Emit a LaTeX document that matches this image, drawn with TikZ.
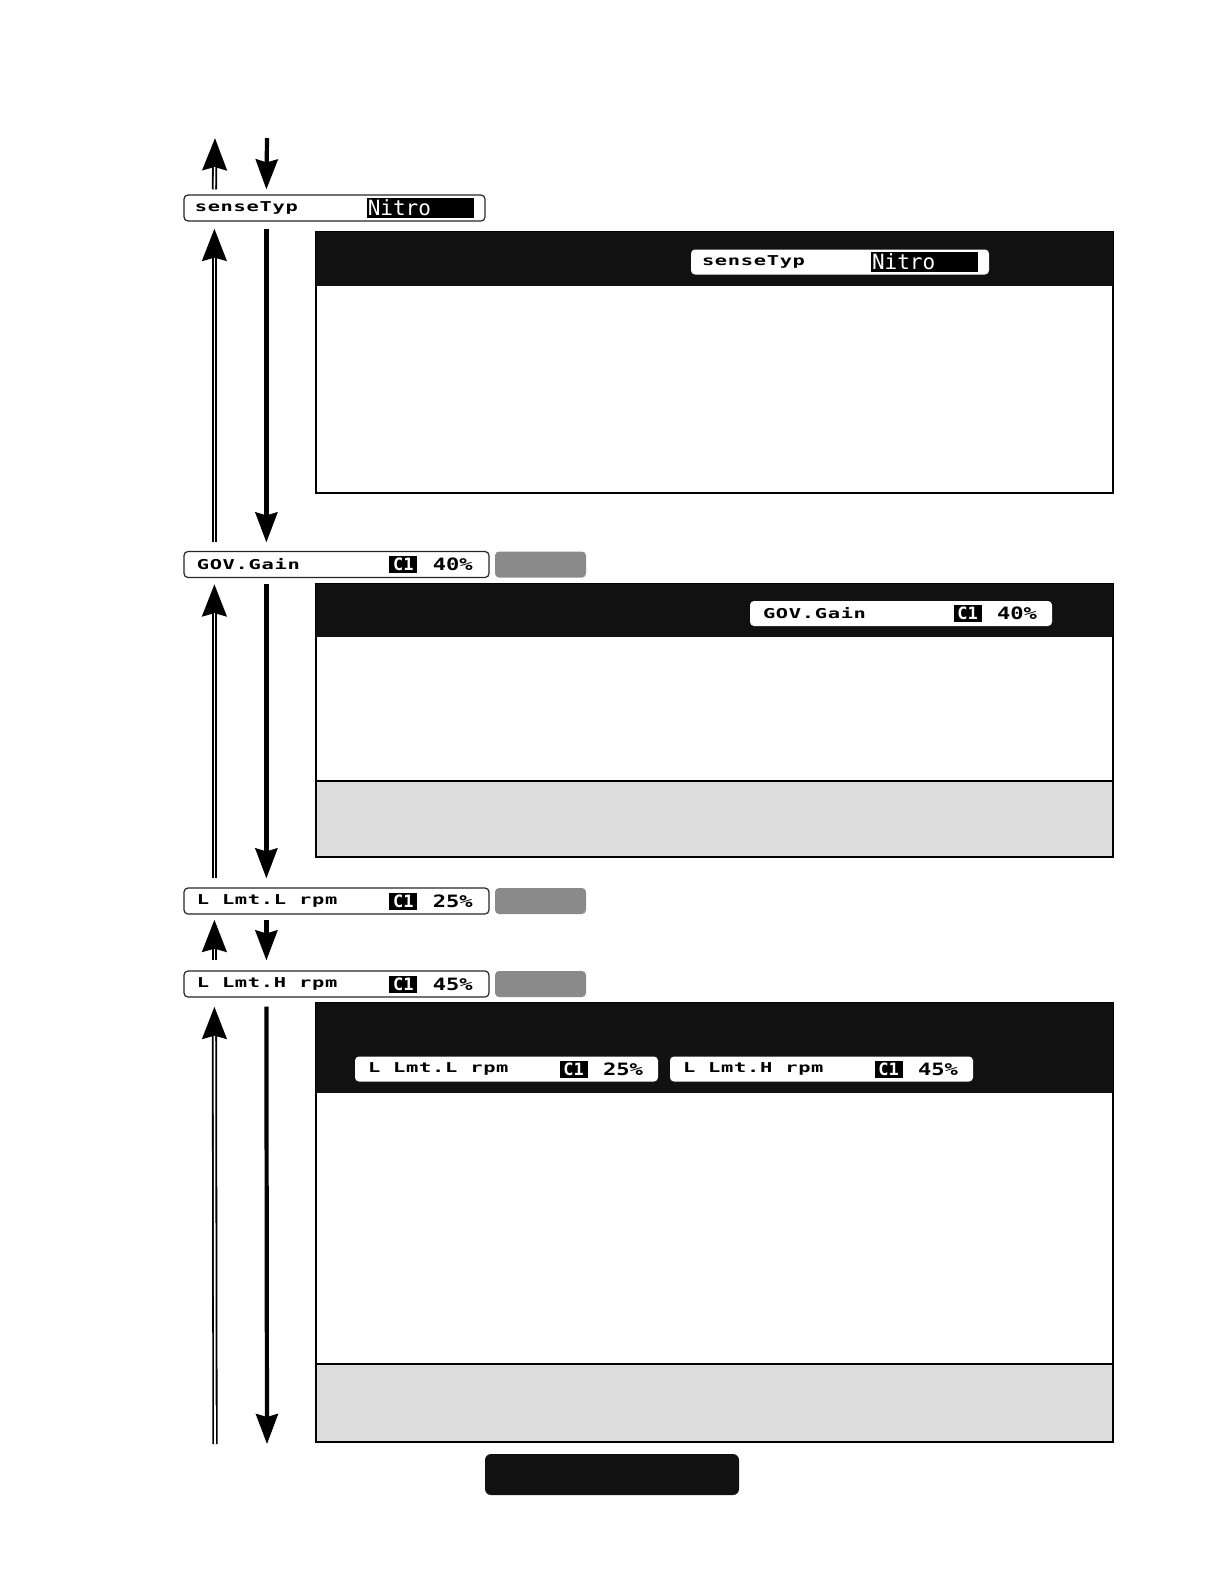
\documentclass[tikz,border=0pt]{standalone}
\usepackage{fontspec}
\usepackage{xcolor}
\newfontfamily\lcdfont[FakeStretch=1.5,LetterSpace=5]{DejaVu Sans Mono Bold}
\newfontfamily\lcdval[FakeStretch=1.3]{DejaVu Sans Mono Bold}
\newfontfamily\valfont{DejaVu Sans Mono}
\usetikzlibrary{arrows.meta, positioning}
\definecolor{hdrblack}{HTML}{111111}
\definecolor{footgray}{HTML}{DCDCDC}
\definecolor{tabgray}{HTML}{8A8A8A}

\begin{document}
\begin{tikzpicture}[x=0.5pt, y=-0.5pt,
  menubox/.style={draw=black!85, line width=0.6pt, rounded corners=2pt, minimum height=13pt, inner sep=0pt},
  innerbox/.style={fill=white, rounded corners=2pt, minimum height=12.5pt, inner sep=0pt},
  lcdlbl/.style={anchor=west, inner sep=0pt, font=\lcdfont\fontsize{6.8}{7}\selectfont},
  chbox/.style={fill=black, text=white, minimum width=14pt, minimum height=8.5pt, inner sep=0pt, font=\valfont\bfseries\fontsize{8.5}{8.5}\selectfont},
  pctval/.style={anchor=west, inner sep=0pt, font=\lcdval\fontsize{8.5}{9}\selectfont},
  nitrobox/.style={anchor=west, fill=black, text=white, minimum width=53.5pt, minimum height=10pt, inner sep=0.5pt, text width=52.5pt, align=left, font=\valfont\fontsize{10.5}{10}\selectfont},
  graytab/.style={fill=tabgray, rounded corners=2pt, minimum width=45.5pt, minimum height=13pt, inner sep=0pt},
  downarr/.style={-{Stealth[length=15pt, width=11pt, inset=1.5pt]}, line width=2.1pt},
  uparr/.style={-{Stealth[length=16pt, width=12pt, inset=1.5pt]}, line width=2.6pt,
    postaction={draw=white, line width=0.8pt, -, shorten >=14.6pt}},
]
\useasboundingbox (0,0) rectangle (1224,1584);

% panels
\draw[line width=1pt] (316,232) rectangle (1113,493);
\fill[hdrblack] (316,232) rectangle (1113,286);
\fill[footgray] (316,781) rectangle (1113,857);
\draw[line width=1pt] (316,781) -- (1113,781);
\draw[line width=1pt] (316,584) rectangle (1113,857);
\fill[hdrblack] (316,584) rectangle (1113,637);
\fill[footgray] (316,1364) rectangle (1113,1442);
\draw[line width=1pt] (316,1364) -- (1113,1364);
\draw[line width=1pt] (316,1003) rectangle (1113,1442);
\fill[hdrblack] (316,1003) rectangle (1113,1093);
\fill[hdrblack, rounded corners=3pt] (485,1454) rectangle (739,1495);

% menu lines
\node[menubox, minimum width=150.5pt] (sense) at (334.5,208) {};
\node[lcdlbl] (senseL) at ([xshift=5.5pt]sense.west) {senseTyp};
\node[nitrobox] (senseV) at ([xshift=91.5pt]sense.west) {Nitro};

\node[menubox, minimum width=152.5pt] (gov) at (336.5,564.5) {};
\node[lcdlbl] (govL) at ([xshift=6.5pt]gov.west) {GOV.Gain};
\node[chbox] (govC) at ([xshift=110pt]gov.west) {C1};
\node[pctval] (govV) at ([xshift=124.5pt]gov.west) {40\%};
\node[graytab] (govT) at (540.5,564.5) {};

\node[menubox, minimum width=152.5pt] (lmtl) at (336.5,901) {};
\node[lcdlbl] (lmtlL) at ([xshift=6.5pt]lmtl.west) {L Lmt.L rpm};
\node[chbox] (lmtlC) at ([xshift=110pt]lmtl.west) {C1};
\node[pctval] (lmtlV) at ([xshift=124.5pt]lmtl.west) {25\%};
\node[graytab] (lmtlT) at (540.5,901) {};

\node[menubox, minimum width=152.5pt] (lmth) at (336.5,984) {};
\node[lcdlbl] (lmthL) at ([xshift=6.5pt]lmth.west) {L Lmt.H rpm};
\node[chbox] (lmthC) at ([xshift=110pt]lmth.west) {C1};
\node[pctval] (lmthV) at ([xshift=124.5pt]lmth.west) {45\%};
\node[graytab] (lmthT) at (540.5,984) {};

% copies in the panel headers
\node[innerbox, minimum width=149pt] (isense) at (840,262) {};
\node[lcdlbl] (isenseL) at ([xshift=5.5pt]isense.west) {senseTyp};
\node[nitrobox] (isenseV) at ([xshift=90pt]isense.west) {Nitro};

\node[innerbox, minimum width=151pt] (igov) at (901,613.5) {};
\node[lcdlbl] (igovL) at ([xshift=6.5pt]igov.west) {GOV.Gain};
\node[chbox] (igovC) at ([xshift=109pt]igov.west) {C1};
\node[pctval] (igovV) at ([xshift=123.5pt]igov.west) {40\%};

\node[innerbox, minimum width=151.5pt] (ilmtl) at (506.5,1069) {};
\node[lcdlbl] (ilmtlL) at ([xshift=6.5pt]ilmtl.west) {L Lmt.L rpm};
\node[chbox] (ilmtlC) at ([xshift=109.5pt]ilmtl.west) {C1};
\node[pctval] (ilmtlV) at ([xshift=124pt]ilmtl.west) {25\%};

\node[innerbox, minimum width=151.5pt] (ilmth) at (821.5,1069) {};
\node[lcdlbl] (ilmthL) at ([xshift=6.5pt]ilmth.west) {L Lmt.H rpm};
\node[chbox] (ilmthC) at ([xshift=109.5pt]ilmth.west) {C1};
\node[pctval] (ilmthV) at ([xshift=124pt]ilmth.west) {45\%};

% arrows
\coordinate (topU) at (215,138);
\coordinate (topD) at (267,138);
\coordinate (botU) at (215,1444);
\coordinate (botD) at (267,1444);
\draw[uparr] ([xshift=15.5pt,yshift=2.5pt]sense.north west) -- (topU);
\draw[downarr] (topD) -- ([xshift=41.5pt,yshift=2.5pt]sense.north west);
\draw[uparr] ([xshift=15.5pt,yshift=4.25pt]gov.north west) -- ([xshift=15.5pt,yshift=-3.5pt]sense.south west);
\draw[downarr] ([xshift=41.5pt,yshift=-3.5pt]sense.south west) -- ([xshift=41.5pt,yshift=4.25pt]gov.north west);
\draw[uparr] ([xshift=15.5pt,yshift=4.5pt]lmtl.north west) -- ([xshift=15.5pt,yshift=-3pt]gov.south west);
\draw[downarr] ([xshift=41.5pt,yshift=-3pt]gov.south west) -- ([xshift=41.5pt,yshift=4.5pt]lmtl.north west);
\draw[uparr] ([xshift=15.5pt,yshift=5pt]lmth.north west) -- ([xshift=15.5pt,yshift=-2.5pt]lmtl.south west);
\draw[downarr] ([xshift=41.5pt,yshift=-2.5pt]lmtl.south west) -- ([xshift=41.5pt,yshift=5pt]lmth.north west);
\draw[uparr] (botU) -- ([xshift=15.5pt,yshift=-4.5pt]lmth.south west);
\draw[downarr] ([xshift=41.5pt,yshift=-4.5pt]lmth.south west) -- (botD);
\end{tikzpicture}
\end{document}
